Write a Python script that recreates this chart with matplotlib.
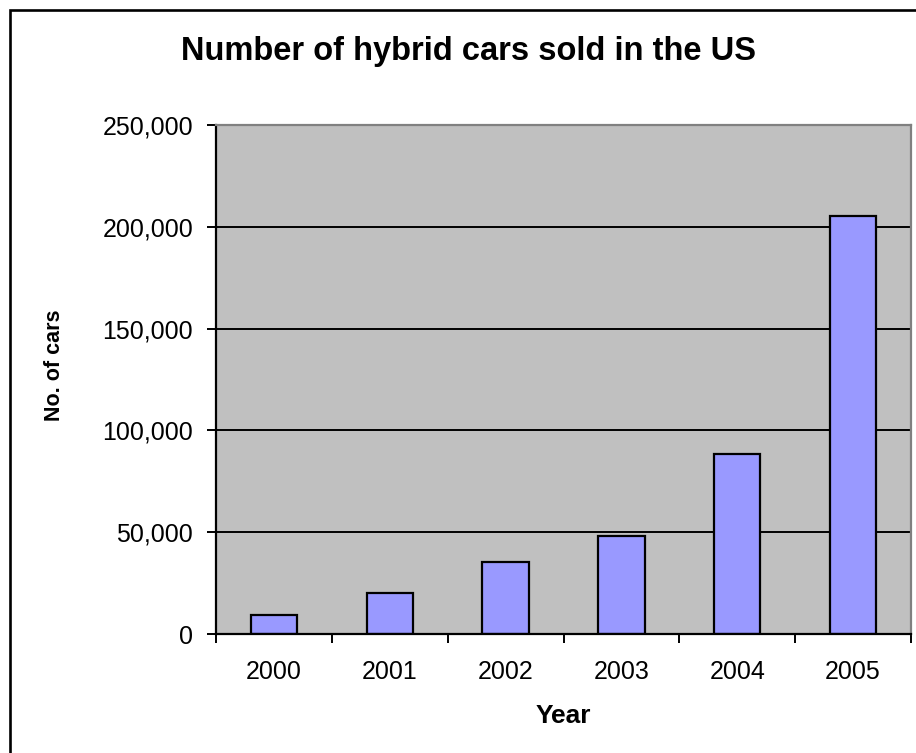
import matplotlib
matplotlib.use("Agg")
import matplotlib.pyplot as plt
from matplotlib.patches import Rectangle
from matplotlib.ticker import FixedLocator, FuncFormatter

plt.rcParams["font.family"] = ["Liberation Sans", "DejaVu Sans"]

PLOT_BG = "#c0c0c0"; BAR = "#9999ff"; INK = "#000000"; FRAME = "#808080"

years = ["2000", "2001", "2002", "2003", "2004", "2005"]
cars_sold = [9500, 20200, 35500, 48000, 88500, 205500]
y_ticks = [0, 50000, 100000, 150000, 200000, 250000]

W, H = 916, 753
fig = plt.figure(figsize=(W / 100, H / 100), dpi=100)
fig.patch.set_facecolor("white")
ax = fig.add_axes([216 / W, 1 - 634 / H, (911 - 216) / W, (634 - 125) / H])
ax.set_facecolor(PLOT_BG)

x = list(range(len(years)))
ax.bar(x, cars_sold, width=0.4, color=BAR, edgecolor=INK, lw=1.6, zorder=3)

ax.set_xlim(-0.5, len(years) - 0.5)
ax.set_ylim(y_ticks[0], y_ticks[-1])

# y axis: gridlines at every tick, outward ticks
ax.yaxis.set_major_locator(FixedLocator(y_ticks))
ax.yaxis.set_major_formatter(FuncFormatter(lambda v, _: f"{v:,.0f}"))
ax.grid(axis="y", color=INK, lw=1.4, zorder=1)
ax.tick_params(axis="y", direction="out", length=6.5, width=1.4,
               pad=10, labelsize=18, color=INK)

# x axis: ticks between categories, labels centred under bars
ax.xaxis.set_major_locator(FixedLocator([i - 0.5 for i in range(len(years) + 1)]))
ax.xaxis.set_minor_locator(FixedLocator(x))
ax.set_xticklabels([], minor=False)
ax.set_xticklabels(years, minor=True)
ax.tick_params(axis="x", which="major", direction="out", length=6.5, width=1.4,
               color=INK)
ax.tick_params(axis="x", which="minor", length=0, pad=19, labelsize=18)

for sp in ("left", "bottom"):
    ax.spines[sp].set_color(INK); ax.spines[sp].set_linewidth(1.6)
for sp in ("top", "right"):
    ax.spines[sp].set_color(FRAME); ax.spines[sp].set_linewidth(1.6)
for sp in ax.spines.values():
    sp.set_zorder(4)

fig.text(469 / W, 1 - 60 / H, "Number of hybrid cars sold in the US",
         ha="center", va="baseline", fontsize=23.5, fontweight="bold", color=INK)
fig.text(563 / W, 1 - 716 / H, "Year", ha="center", va="center",
         fontsize=19, fontweight="bold", color=INK)
fig.text(55 / W, 1 - 365 / H, "No. of cars", ha="center", va="center",
         rotation=90, fontsize=15.5, fontweight="bold", color=INK)

# chart border (only its left and top edges fall inside the canvas)
fig.patches.append(Rectangle((9.5 / W, -0.2), 1.2, 1.2 - 9.5 / H,
                             transform=fig.transFigure, fill=False,
                             edgecolor=INK, lw=1.9))

fig.savefig("out.png", dpi=100, facecolor="white")
